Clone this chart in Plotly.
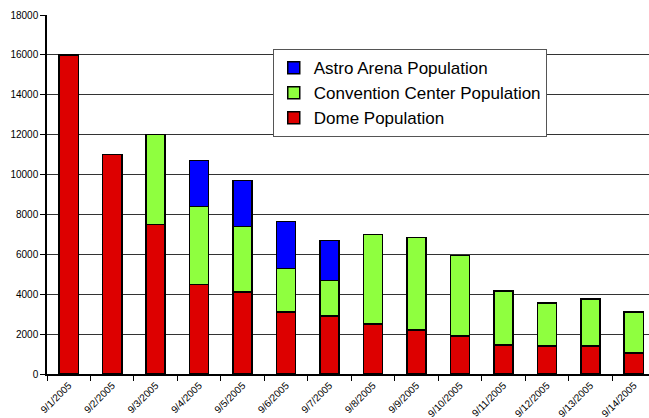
import plotly.graph_objects as go

dates = ["9/1/2005", "9/2/2005", "9/3/2005", "9/4/2005", "9/5/2005", "9/6/2005", "9/7/2005",
         "9/8/2005", "9/9/2005", "9/10/2005", "9/11/2005", "9/12/2005", "9/13/2005", "9/14/2005"]
dome = [16000, 11000, 7500, 4500, 4100, 3100, 2900, 2500, 2200, 1900, 1450, 1400, 1400, 1050]
convention = [0, 0, 4500, 3900, 3300, 2200, 1800, 4500, 4650, 4050, 2700, 2150, 2350, 2050]
astro = [0, 0, 0, 2300, 2300, 2350, 2000, 0, 0, 0, 0, 0, 0, 0]
y_ticks = [0, 2000, 4000, 6000, 8000, 10000, 12000, 14000, 16000, 18000]

font = "Liberation Sans, Arial, sans-serif"
line = dict(color="black", width=1.5)

fig = go.Figure()
fig.add_trace(go.Bar(x=dates, y=dome, name="Dome Population",
                     marker=dict(color="#DD0000", line=line)))
fig.add_trace(go.Bar(x=dates, y=convention, name="Convention Center Population",
                     marker=dict(color="#8FFF3F", line=line)))
fig.add_trace(go.Bar(x=dates, y=astro, name="Astro Arena Population",
                     marker=dict(color="#0000FF", line=line)))

fig.update_layout(
    barmode="stack",
    bargap=0.56,
    width=649, height=418,
    margin=dict(l=47, r=0, t=15, b=44),
    paper_bgcolor="white", plot_bgcolor="white",
    font=dict(family=font, color="black"),
    showlegend=True,
    legend=dict(
        traceorder="reversed",
        x=0.375, y=0.905, xanchor="left", yanchor="top",
        bgcolor="white", bordercolor="#555", borderwidth=1,
        font=dict(size=17, family=font),
        itemwidth=30,
        tracegroupgap=0,
    ),
)
fig.update_yaxes(
    range=[0, 18000], tickvals=y_ticks, ticktext=[str(v) for v in y_ticks],
    showgrid=True, gridcolor="#333", gridwidth=1,
    showline=True, linecolor="black", linewidth=1.5,
    ticks="outside", ticklen=5, tickcolor="black",
    tickfont=dict(size=10, family=font), zeroline=False,
)
fig.update_xaxes(
    type="category", range=[-0.5, 13.35],
    showline=True, linecolor="black", linewidth=1.5,
    ticks="outside", ticklen=5, tickcolor="black", tickson="boundaries",
    tickangle=-45, tickfont=dict(size=10, family=font),
    showgrid=False,
)

fig.write_html("out.html")
